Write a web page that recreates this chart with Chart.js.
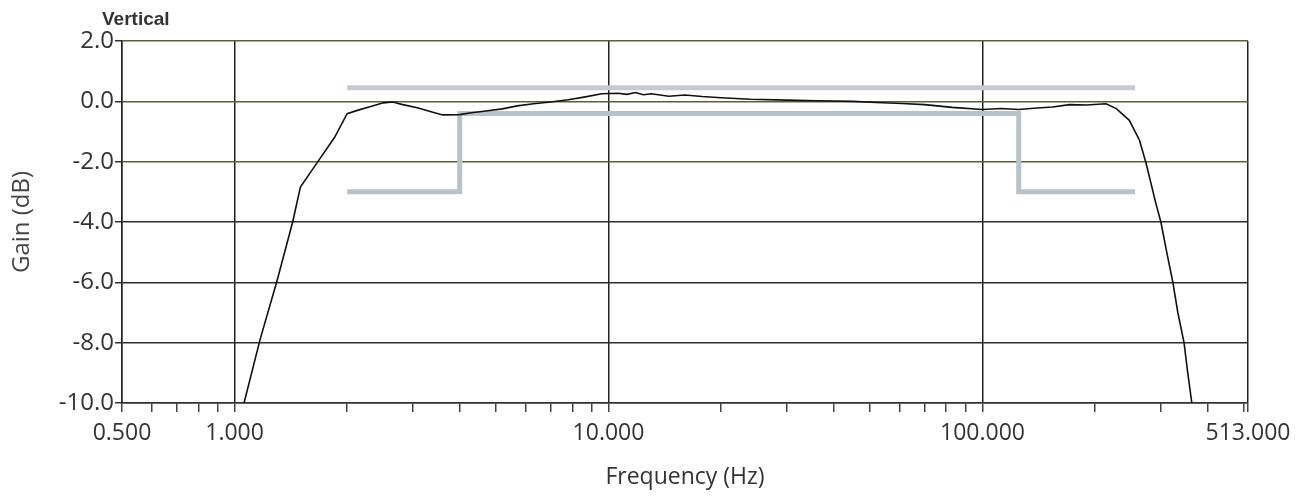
<!DOCTYPE html>
<html>
<head>
<meta charset="utf-8">
<script src="https://cdn.jsdelivr.net/npm/chart.js@4/dist/chart.umd.min.js"></script>
<style>
  html, body { margin: 0; padding: 0; background: #fff; }
  canvas { display: block; }
</style>
</head>
<body>
<canvas id="gainChart" width="1305" height="496"></canvas>
<script>
// measured response (Hz, dB)
const respFreq = [1.06, 1.17, 1.30, 1.43, 1.50, 1.67, 1.85, 2.0, 2.13, 2.3, 2.5, 2.65, 2.8, 3.1, 3.3, 3.6, 4.0, 4.3, 4.7, 5.2, 5.7, 6.3, 7.0, 7.8, 8.6, 9.6, 10.6, 11.2, 11.8, 12.4, 13.0, 14.5, 16, 17.8, 20, 24, 30, 36, 45, 52, 61, 70, 83, 100, 112, 125, 140, 154, 171, 190, 214, 228, 247, 263, 274, 291, 300, 311, 323, 333, 346, 354, 363];
const respGain = [-10, -7.9, -5.93, -4.0, -2.84, -2.0, -1.2, -0.41, -0.3, -0.18, -0.05, -0.02, -0.1, -0.22, -0.32, -0.45, -0.44, -0.38, -0.32, -0.25, -0.15, -0.08, -0.02, 0.05, 0.14, 0.25, 0.27, 0.23, 0.29, 0.22, 0.25, 0.17, 0.21, 0.16, 0.12, 0.07, 0.04, 0.02, 0.0, -0.04, -0.07, -0.11, -0.2, -0.27, -0.24, -0.27, -0.22, -0.19, -0.11, -0.12, -0.08, -0.24, -0.63, -1.29, -2.06, -3.39, -4.0, -5.0, -6.0, -7.0, -8.0, -9.0, -10];

// limit masks
const upperFreq = [2, 256];
const upperGain = [0.45, 0.45];
const lowerFreq = [2, 4, 4, 125, 125, 256];
const lowerGain = [-3, -3, -0.4, -0.4, -3, -3];

// axis ticks
const xMajor = [0.5, 1, 10, 100, 513];
const xMinor = [0.6, 0.7, 0.8, 0.9, 2, 3, 4, 5, 6, 7, 8, 9, 20, 30, 40, 50, 60, 70, 80, 90, 200, 300, 400, 500];
const yTicks = [2, 0, -2, -4, -6, -8, -10];

const toPts = (xs, ys) => xs.map((x, i) => ({ x: x, y: ys[i] }));

const fontFam = "'Open Sans', sans-serif";

const captionPlugin = {
    id: 'caption',
    afterDraw(chart) {
        const ctx = chart.ctx;
        ctx.save();
        ctx.font = "bold 19px 'Liberation Sans', Arial, sans-serif";
        ctx.fillStyle = '#333';
        ctx.textBaseline = 'middle';
        ctx.fillText('Vertical', 102, 20);
        ctx.restore();
    }
};

new Chart('gainChart', {
    type: 'scatter',
    data: {
        datasets: [{
            label: 'Response',
            data: toPts(respFreq, respGain),
            showLine: true,
            borderColor: '#111',
            borderWidth: 1.6,
            pointRadius: 0,
            tension: 0
        }, {
            label: 'Upper limit',
            data: toPts(upperFreq, upperGain),
            showLine: true,
            borderColor: '#c6c9cd',
            borderWidth: 5,
            pointRadius: 0
        }, {
            label: 'Lower limit',
            data: toPts(lowerFreq, lowerGain),
            showLine: true,
            borderColor: '#b9c2c9',
            borderWidth: 5,
            pointRadius: 0
        }]
    },
    options: {
        responsive: false,
        animation: false,
        layout: { padding: { top: 41, right: 57, left: 0, bottom: 0 } },
        plugins: {
            legend: { display: false },
            tooltip: { enabled: false }
        },
        scales: {
            x: {
                type: 'logarithmic',
                min: 0.5,
                max: 513,
                afterBuildTicks: (scale) => {
                    const all = xMajor.concat(xMinor).sort((a, b) => a - b);
                    scale.ticks = all.map(v => ({ value: v, major: xMajor.includes(v) }));
                },
                afterFit: (scale) => { scale.height = 93; },
                ticks: {
                    autoSkip: false,
                    maxRotation: 0,
                    padding: 8,
                    color: '#333',
                    font: { family: fontFam, size: 23 },
                    callback: (v) => xMajor.includes(v) ? v.toFixed(3) : ''
                },
                grid: {
                    color: (c) => (c.tick && xMajor.includes(c.tick.value)) ? '#222' : 'rgba(0,0,0,0)',
                    lineWidth: 1.5,
                    tickColor: '#444',
                    tickLength: 9
                },
                border: { display: true, color: '#333', width: 1.5 },
                title: {
                    display: true,
                    text: 'Frequency (Hz)',
                    color: '#333',
                    font: { family: fontFam, size: 23 },
                    padding: { top: 0, bottom: 5 }
                }
            },
            y: {
                min: -10,
                max: 2,
                afterBuildTicks: (scale) => {
                    scale.ticks = yTicks.map(v => ({ value: v }));
                },
                afterFit: (scale) => { scale.width = 122; },
                ticks: {
                    padding: 1,
                    color: '#333',
                    font: { family: fontFam, size: 24 },
                    callback: (v) => Number(v).toFixed(1)
                },
                grid: {
                    color: (c) => (c.tick && c.tick.value >= -2) ? '#5e5e3c' : '#2e2e2e',
                    lineWidth: 1.5,
                    tickColor: '#333',
                    tickLength: 7
                },
                border: { display: true, color: '#222', width: 1.5 },
                title: {
                    display: true,
                    text: 'Gain (dB)',
                    color: '#444',
                    font: { family: fontFam, size: 24 },
                    padding: { top: 8, bottom: 0 }
                }
            }
        }
    },
    plugins: [captionPlugin]
});
</script>
</body>
</html>
